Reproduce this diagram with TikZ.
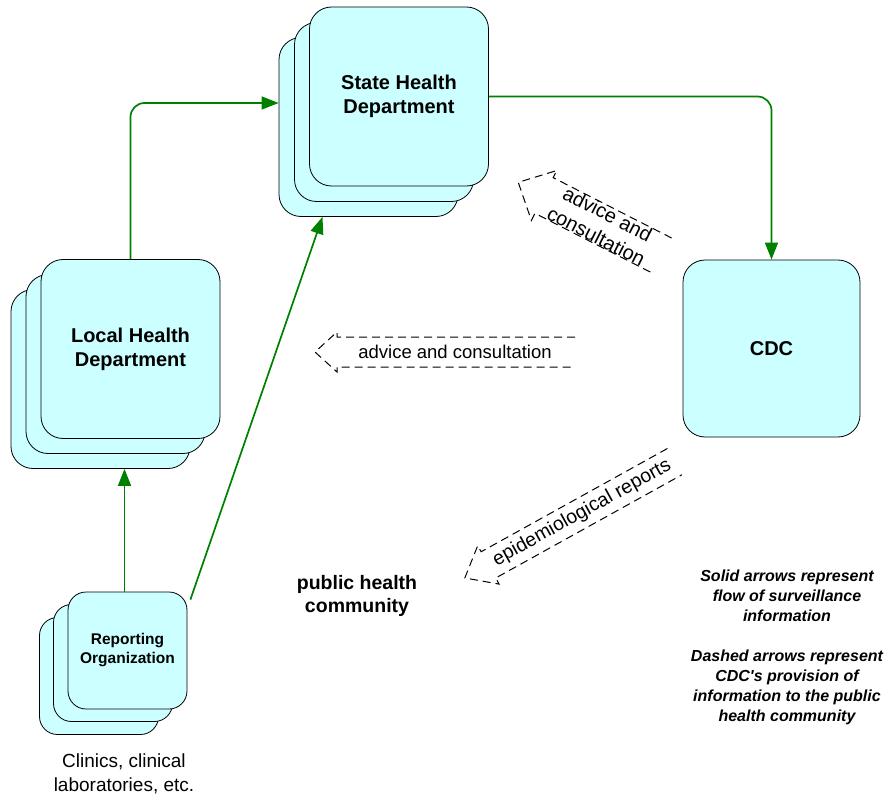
\documentclass[tikz,border=0pt]{standalone}
\usepackage{fontspec}
\setmainfont{Liberation Sans}
\usetikzlibrary{arrows.meta}
\definecolor{cardfill}{RGB}{204,255,255}
\definecolor{flowgreen}{RGB}{0,128,0}

\begin{document}
\begin{tikzpicture}[x=1pt,y=-1pt,
  card/.style={draw,line width=0.8pt,fill=cardfill,rounded corners=22pt,
    minimum width=179pt,minimum height=179pt,align=center,
    font=\fontsize{20}{24}\selectfont\bfseries},
  smallcard/.style={card,rounded corners=18pt,minimum width=119pt,
    minimum height=117pt,font=\fontsize{15.5}{19}\selectfont\bfseries},
  flow/.style={draw=flowgreen,line width=1.7pt,rounded corners=14pt,
    -{Triangle[length=17pt,width=13pt]}},
  hollow/.style={draw=black,line width=1pt,dash pattern=on 8pt off 5pt},
  lbl/.style={align=center,font=\fontsize{18.5}{24}\selectfont}]
\useasboundingbox (0,0) rectangle (887,797);
% Stacked boxes
\node[card] (shd3) at (368.5,127) {};
\node[card] (shd2) at (384,112) {};
\node[card] (shd1) at (399,96.5) {State Health\\Department};
\node[card] (lhd3) at (100.5,379) {};
\node[card] (lhd2) at (115.5,364) {};
\node[card] (lhd1) at (130.5,349) {Local Health\\Department};
\node[smallcard] (rep3) at (99,676) {};
\node[smallcard] (rep2) at (113,663) {};
\node[smallcard] (rep1) at (127.5,650.5) {Reporting\\Organization};
\node[card,minimum width=177pt,minimum height=177pt] (cdc) at (771.5,348.5) {CDC};
% Surveillance flow
\coordinate (repTop) at ([xshift=-3pt]rep1.north);
\draw[flow] (lhd1.north) |- ([yshift=24pt]shd3.west);
\draw[flow] (shd1.east) -| (cdc.north);
\draw[flow] (repTop) -- (repTop |- lhd3.south);
\draw[flow] ([shift={(3,8)}]rep1.north east) -- ([xshift=-46pt]shd3.south);
% CDC back to the community
\node[lbl] (adv1) at (455,352) {advice and consultation};
\begin{scope}[shift={(adv1.center)}]
\draw[hollow] (120,-15) -- (-118,-15) -- (-118,-20) -- (-140,0) -- (-118,20)
  -- (-118,15) -- (120,15);
\end{scope}
\node[lbl,rotate=-27,font=\fontsize{20}{25}\selectfont] (adv2) at (602,225)
  {advice and\\consultation};
\begin{scope}[shift={(adv2.center)},rotate=-27]
\draw[hollow] (68,-20) -- (-65,-20) -- (-65,-28) -- (-94,0) -- (-65,28)
  -- (-65,20) -- (68,20);
\end{scope}
\node[lbl,rotate=29,font=\fontsize{19.5}{23}\selectfont] (epi) at (582,513)
  {epidemiological reports};
\begin{scope}[shift={(epi.center)},rotate=29]
\draw[hollow] (106,-15) -- (-107,-15) -- (-107,-22) -- (-134,0) -- (-107,22)
  -- (-107,15) -- (106,15);
\end{scope}
% Plain labels
\node[lbl,font=\fontsize{19.5}{23}\selectfont\bfseries] (phc) at (357,596)
  {public health\\community};
\node[lbl,font=\fontsize{19}{24}\selectfont] (clin) at (124,774)
  {Clinics, clinical\\laboratories, etc.};
\node[lbl,font=\fontsize{16}{19.9}\selectfont\bfseries\itshape] (legend) at (787,647.5)
  {Solid arrows represent\\flow of surveillance\\information\\[19.9pt]
   Dashed arrows represent\\CDC\textquotesingle s provision of\\information to the public\\health community};
\end{tikzpicture}
\end{document}
